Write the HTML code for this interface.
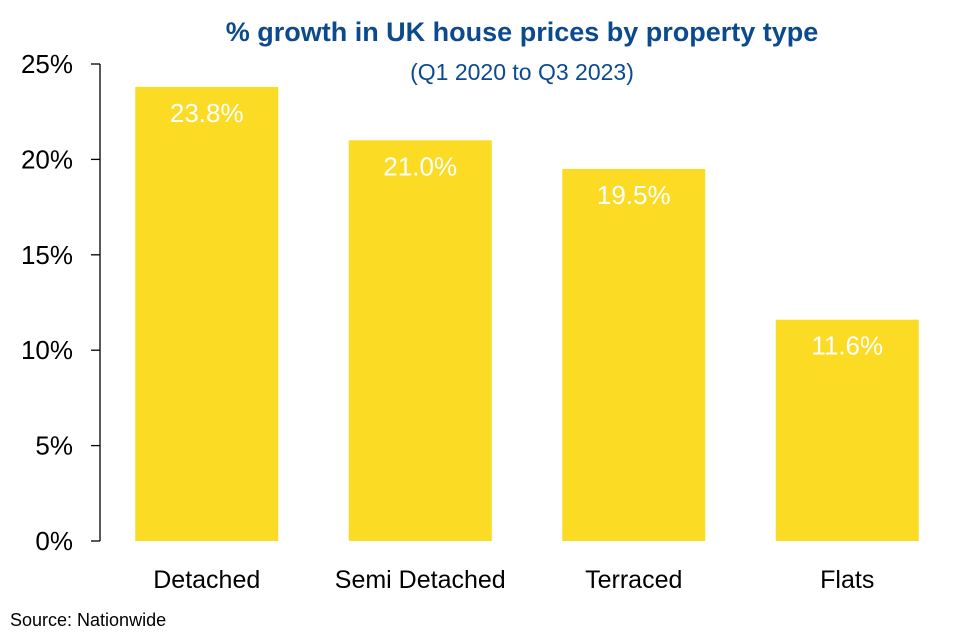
<!DOCTYPE html>
<html><head><meta charset="utf-8"><style>
body{margin:0;background:#fff;width:974px;height:635px;overflow:hidden;font-family:"Liberation Sans",sans-serif}
</style></head><body>
<svg width="974" height="635" id="chart">
<text x="522" y="41" text-anchor="middle" font-size="27" font-weight="bold" fill="#0B4A8F">% growth in UK house prices by property type</text>
<text x="522" y="80" text-anchor="middle" font-size="23" fill="#0B4A8F">(Q1 2020 to Q3 2023)</text>
<text x="10" y="626" font-size="18" fill="#000">Source: Nationwide</text>
<g id="g"></g>
</svg>
<script>
const categories=["Detached","Semi Detached","Terraced","Flats"];
const values=[23.8,21.0,19.5,11.6];
const labels=["23.8%","21.0%","19.5%","11.6%"];
const ticks=[0,5,10,15,20,25];
const tickLabels=["0%","5%","10%","15%","20%","25%"];
const NS="http://www.w3.org/2000/svg";
const g=document.getElementById("g");
const x0=100,x1=954,y0=541,yTop=64,vmax=25;
const y=v=>y0-(y0-yTop)*v/vmax;
const band=(x1-x0)/categories.length,bw=143;
const xb=i=>x0+band*i+(band-bw)/2;
function mk(t,a){const e=document.createElementNS(NS,t);for(const k in a)e.setAttribute(k,a[k]);g.appendChild(e);return e;}
const ax=mk("path",{d:`M${x0} ${yTop}V${y0}`,stroke:"#000","stroke-width":1.3,fill:"none"});


ticks.forEach((t,i)=>{
 const l=mk("line",{x1:91,x2:x0,y1:y(t),y2:y(t),stroke:"#000","stroke-width":1.3});
 
 
 const tx=mk("text",{x:73,y:y(t)+9,"text-anchor":"end","font-size":26,fill:"#000"});
 tx.textContent=tickLabels[i];
 
 
});
categories.forEach((c,i)=>{
 const r=mk("rect",{x:xb(i),y:y(values[i]),width:bw,height:y0-y(values[i]),fill:"#FCDB24"});
 
 
 const v=mk("text",{x:xb(i)+bw/2,y:y(values[i])+35,"text-anchor":"middle","font-size":26,fill:"#fff"});
 v.textContent=labels[i];
 
 
 const cl=mk("text",{x:xb(i)+bw/2,y:588,"text-anchor":"middle","font-size":25,fill:"#000"});
 cl.textContent=c;
 
 
});
</script>
</body></html>
